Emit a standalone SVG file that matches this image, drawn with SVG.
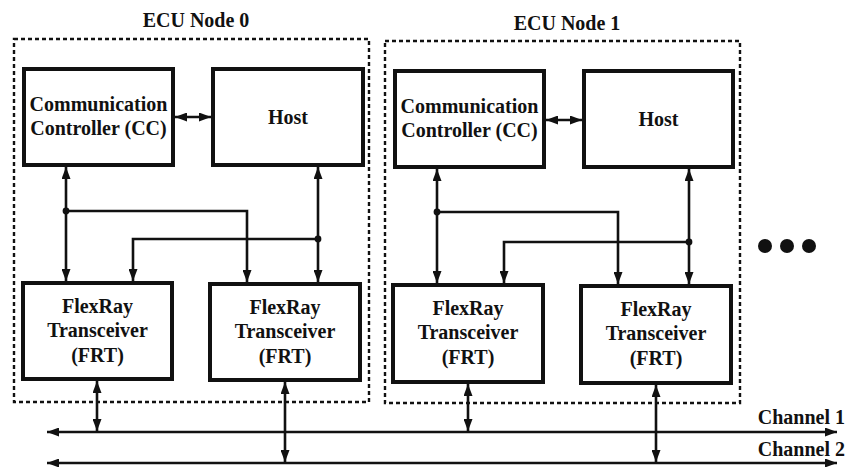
<svg xmlns="http://www.w3.org/2000/svg" width="857" height="467" viewBox="0 0 857 467">
<style>
.t{font-family:"Liberation Serif","Times New Roman",serif;font-weight:bold;font-size:20px;fill:#111;text-anchor:middle}
.box{fill:#fff;stroke:#111;stroke-width:4}
.ecu{fill:none;stroke:#111;stroke-width:2.4;stroke-dasharray:4 3}
.c{fill:none;stroke:#111;stroke-width:2.6}
.dot{fill:#111}
</style>
<defs>
<marker id="ah" viewBox="0 0 12 9" refX="12" refY="4.5" markerWidth="12" markerHeight="9" markerUnits="userSpaceOnUse" orient="auto-start-reverse">
<path d="M0,0 L12,4.5 L0,9 Z" fill="#111"/>
</marker>
</defs>
<rect width="857" height="467" fill="#fff"/>

<g id="ecu0">
<rect class="ecu" x="14" y="39" width="355" height="363"/>
<text class="t" x="196" y="27">ECU Node 0</text>
</g>
<g id="ecu1">
<rect class="ecu" x="385" y="41" width="355" height="362"/>
<text class="t" x="567" y="30">ECU Node 1</text>
</g>

<g id="cc0">
<rect class="box" x="24" y="69" width="149" height="96"/>
<text class="t" x="98.5" y="111">Communication</text>
<text class="t" x="98.5" y="135">Controller (CC)</text>
</g>
<g id="host0">
<rect class="box" x="213" y="69" width="150" height="96"/>
<text class="t" x="288" y="124">Host</text>
</g>
<g id="frt0a">
<rect class="box" x="23" y="283" width="149" height="96"/>
<text class="t" x="97.5" y="313">FlexRay</text>
<text class="t" x="97.5" y="337">Transceiver</text>
<text class="t" x="97.5" y="362">(FRT)</text>
</g>
<g id="frt0b">
<rect class="box" x="210" y="284" width="150" height="96"/>
<text class="t" x="285" y="314">FlexRay</text>
<text class="t" x="285" y="338">Transceiver</text>
<text class="t" x="285" y="363">(FRT)</text>
</g>

<g id="cc1">
<rect class="box" x="395" y="71" width="149" height="96"/>
<text class="t" x="469.5" y="113">Communication</text>
<text class="t" x="469.5" y="137">Controller (CC)</text>
</g>
<g id="host1">
<rect class="box" x="584" y="71" width="149" height="96"/>
<text class="t" x="658.5" y="126">Host</text>
</g>
<g id="frt1a">
<rect class="box" x="393" y="285" width="150" height="97"/>
<text class="t" x="468" y="315">FlexRay</text>
<text class="t" x="468" y="339">Transceiver</text>
<text class="t" x="468" y="364">(FRT)</text>
</g>
<g id="frt1b">
<rect class="box" x="581" y="286" width="150" height="97"/>
<text class="t" x="656" y="316">FlexRay</text>
<text class="t" x="656" y="340">Transceiver</text>
<text class="t" x="656" y="365">(FRT)</text>
</g>

<g id="channels">
<path class="c" d="M47,432 H837" marker-start="url(#ah)" marker-end="url(#ah)"/>
<path class="c" d="M47,463 H837" marker-start="url(#ah)" marker-end="url(#ah)"/>
<text class="t" x="845" y="424" style="text-anchor:end">Channel 1</text>
<text class="t" x="845" y="456" style="text-anchor:end">Channel 2</text>
</g>

<g id="ellipsis">
<circle class="dot" cx="765" cy="246" r="7"/>
<circle class="dot" cx="787" cy="246" r="7"/>
<circle class="dot" cx="809" cy="246" r="7"/>
</g>

<g id="connectors">
<!-- node 0 -->
<path class="c" d="M175,117 H211" marker-start="url(#ah)" marker-end="url(#ah)"/>
<path class="c" d="M66,167 V281" marker-start="url(#ah)" marker-end="url(#ah)"/>
<path class="c" d="M66,211 H247 V282" marker-end="url(#ah)"/>
<path class="c" d="M318,167 V282" marker-start="url(#ah)" marker-end="url(#ah)"/>
<path class="c" d="M318,239 H133 V281" marker-end="url(#ah)"/>
<circle class="dot" cx="66" cy="211" r="3.4"/>
<circle class="dot" cx="318" cy="239" r="3.4"/>
<path class="c" d="M97,381 V431" marker-start="url(#ah)" marker-end="url(#ah)"/>
<path class="c" d="M285,382 V462" marker-start="url(#ah)" marker-end="url(#ah)"/>
<!-- node 1 -->
<path class="c" d="M546,120 H582" marker-start="url(#ah)" marker-end="url(#ah)"/>
<path class="c" d="M437,169 V283" marker-start="url(#ah)" marker-end="url(#ah)"/>
<path class="c" d="M437,212 H618 V284" marker-end="url(#ah)"/>
<path class="c" d="M689,169 V284" marker-start="url(#ah)" marker-end="url(#ah)"/>
<path class="c" d="M689,242 H504 V283" marker-end="url(#ah)"/>
<circle class="dot" cx="437" cy="212" r="3.4"/>
<circle class="dot" cx="689" cy="242" r="3.4"/>
<path class="c" d="M468,384 V431" marker-start="url(#ah)" marker-end="url(#ah)"/>
<path class="c" d="M656,385 V462" marker-start="url(#ah)" marker-end="url(#ah)"/>
</g>
</svg>
